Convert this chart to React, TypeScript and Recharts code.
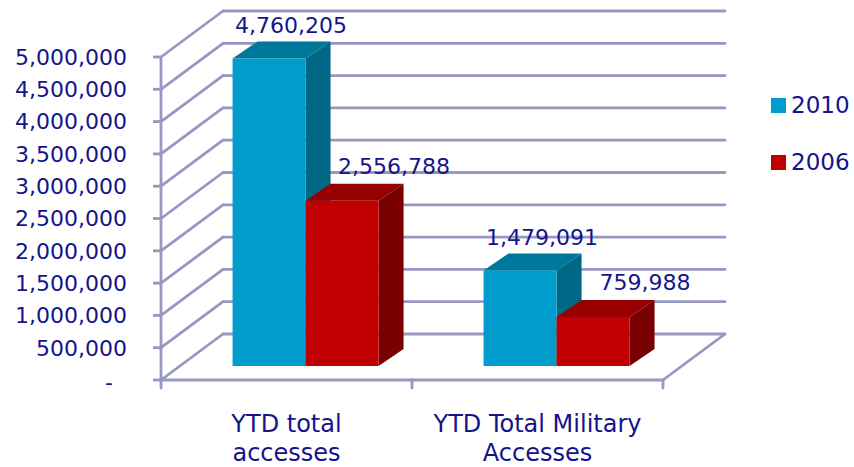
import React from 'react';
import { BarChart, Bar, XAxis, YAxis, CartesianGrid, LabelList, Legend } from 'recharts';

// ---- data ----
const categories = ['YTD total accesses', 'YTD Total Military Accesses'];
const series2010 = [4760205, 1479091];
const series2006 = [2556788, 759988];
const seriesNames = ['2010', '2006'];
const yTicks = [0, 500000, 1000000, 1500000, 2000000, 2500000, 3000000, 3500000, 4000000, 4500000, 5000000];

const data = categories.map((c, i) => ({ name: c, v2010: series2010[i], v2006: series2006[i] }));

// ---- layout / style ----
const W = 854;
const H = 467;
const X_AXIS_H = 87;
const Y_AXIS_W = 161;
const PLOT_BOTTOM = H - X_AXIS_H;
const WALL_DX = 62;
const WALL_DY = -46;
const BAR_OFF_X = 18.6;
const BAR_OFF_Y = -14;
const BAR_DX = 25;
const BAR_DY = -17;
const FONT = '"DejaVu Sans", sans-serif';
const TEXT = '#14148c';
const GRID = '#9797c2';

const COLORS = {
  v2010: { front: '#009ccc', top: '#00789c', side: '#006886' },
  v2006: { front: '#c00000', top: '#980000', side: '#780000' },
};

const fmt = (v: number) => v.toLocaleString('en-US');

const makeShape = (c: { front: string; top: string; side: string }) => (props: any) => {
  const { x, y, width, height } = props;
  if (width == null || height == null) return null;
  const fx = x + BAR_OFF_X;
  const fy = y + BAR_OFF_Y;
  return (
    <g>
      <polygon
        points={`${fx},${fy} ${fx + width},${fy} ${fx + width + BAR_DX},${fy + BAR_DY} ${fx + BAR_DX},${fy + BAR_DY}`}
        fill={c.top}
      />
      <polygon
        points={`${fx + width},${fy} ${fx + width + BAR_DX},${fy + BAR_DY} ${fx + width + BAR_DX},${fy + height + BAR_DY} ${fx + width},${fy + height}`}
        fill={c.side}
      />
      <rect x={fx} y={fy} width={width} height={height} fill={c.front} />
    </g>
  );
};

const makeLabel = (dxExtra: number, dyExtra: number) => (p: any) => {
  const { x, y, width, value } = p;
  return (
    <text
      x={x + width / 2 + BAR_OFF_X + dxExtra}
      y={y + BAR_OFF_Y + BAR_DY + dyExtra}
      textAnchor="middle"
      fill={TEXT}
      fontSize={22}
      fontFamily={FONT}
    >
      {fmt(Number(value))}
    </text>
  );
};

const gridLine = (props: any) => {
  const { x1, x2, y1, index } = props;
  const y = y1;
  const isZero = Math.abs(y - PLOT_BOTTOM) < 1.5;
  const common = { stroke: GRID, strokeWidth: 2.8, strokeLinecap: 'round' as const };
  return (
    <g key={`gl-${index}`}>
      <line x1={x1} y1={y} x2={x1 + WALL_DX} y2={y + WALL_DY} {...common} />
      <line x1={x1 + WALL_DX} y1={y + WALL_DY} x2={x2 + WALL_DX} y2={y + WALL_DY} {...common} />
      {isZero && (
        <g>
          <line x1={x1} y1={y} x2={x2} y2={y} {...common} />
          <line x1={x2} y1={y} x2={x2 + WALL_DX} y2={y + WALL_DY} {...common} />
          <line x1={x1} y1={y} x2={x1} y2={y + 8} {...common} />
          <line x1={(x1 + x2) / 2} y1={y} x2={(x1 + x2) / 2} y2={y + 8} {...common} />
          <line x1={x2} y1={y} x2={x2} y2={y + 8} {...common} />
        </g>
      )}
    </g>
  );
};

const YTick = (props: any) => {
  const { x, y, payload } = props;
  const v = Number(payload.value);
  if (v === 0) {
    return (
      <text x={x - 18} y={y} dy="0.45em" textAnchor="middle" fill={TEXT} fontSize={22} fontFamily={FONT}>
        -
      </text>
    );
  }
  return (
    <text x={x} y={y} dy="0.355em" textAnchor="end" fill={TEXT} fontSize={22} fontFamily={FONT}>
      {fmt(v)}
    </text>
  );
};

const XTick = (props: any) => {
  const { x, y, payload } = props;
  const s = String(payload.value);
  const i = s.lastIndexOf(' ');
  const lines = [s.slice(0, i), s.slice(i + 1)];
  return (
    <text textAnchor="middle" fill={TEXT} fontSize={24} fontFamily={FONT}>
      {lines.map((l, k) => (
        <tspan key={k} x={x} y={y + 52 + k * 29}>
          {l}
        </tspan>
      ))}
    </text>
  );
};

const LegendContent = () => (
  <div style={{ position: 'relative', width: 90, height: 100, fontFamily: FONT }}>
    {seriesNames.map((n, i) => (
      <div
        key={n}
        style={{
          position: 'absolute',
          left: 0,
          top: i * 57,
          height: 27,
          display: 'flex',
          alignItems: 'center',
          color: TEXT,
          fontSize: 23,
          lineHeight: '27px',
          whiteSpace: 'nowrap',
        }}
      >
        <span
          style={{
            display: 'inline-block',
            width: 15,
            height: 15,
            marginRight: 5,
            background: i === 0 ? COLORS.v2010.front : COLORS.v2006.front,
          }}
        />
        <span>{n}</span>
      </div>
    ))}
  </div>
);

export default function App() {
  return (
    <div style={{ position: 'absolute', left: 0, top: 0, width: W, height: H, background: '#fff' }}>
      <BarChart
        width={W}
        height={H}
        data={data}
        margin={{ top: 57, right: 191, bottom: 0, left: 0 }}
        barCategoryGap="21.1%"
        barGap={0}
      >
        <CartesianGrid horizontal={gridLine as any} vertical={false} />
        <XAxis
          dataKey="name"
          height={X_AXIS_H}
          axisLine={false}
          tickLine={false}
          tickSize={0}
          tickMargin={0}
          tick={<XTick />}
          interval={0}
        />
        <YAxis
          width={Y_AXIS_W}
          domain={[0, 5000000]}
          ticks={yTicks}
          interval={0}
          axisLine={{ stroke: GRID, strokeWidth: 2.8 }}
          tickLine={{ stroke: GRID, strokeWidth: 2.8 }}
          tickSize={8}
          tickMargin={26}
          tick={<YTick />}
        />
        <Legend
          layout="vertical"
          align="center"
          verticalAlign="middle"
          wrapperStyle={{ position: 'absolute', left: 771, top: 92, width: 90, height: 100 }}
          content={<LegendContent />}
        />
        <Bar dataKey="v2010" name={seriesNames[0]} isAnimationActive={false} shape={makeShape(COLORS.v2010)}>
          <LabelList dataKey="v2010" content={makeLabel(22, -8)} />
        </Bar>
        <Bar dataKey="v2006" name={seriesNames[1]} isAnimationActive={false} shape={makeShape(COLORS.v2006)}>
          <LabelList dataKey="v2006" content={makeLabel(52, -10)} />
        </Bar>
      </BarChart>
    </div>
  );
}
